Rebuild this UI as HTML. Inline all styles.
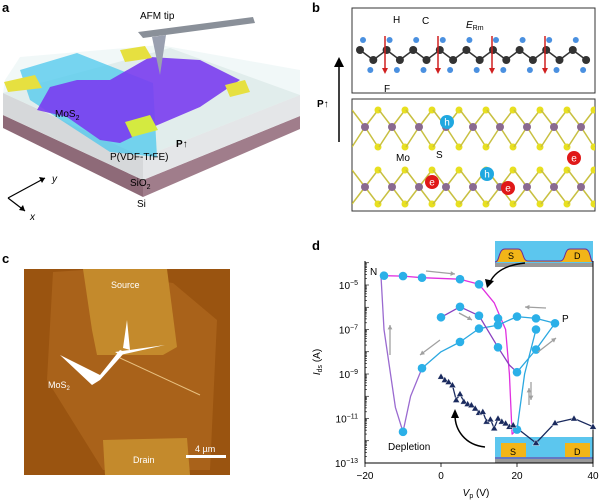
<!DOCTYPE html>
<html><head><meta charset="utf-8"><style>
html,body{margin:0;padding:0;background:#fff;}
svg{display:block;font-family:"Liberation Sans",sans-serif;}
</style></head><body>
<svg id="fig" width="600" height="502" viewBox="0 0 600 502">
<defs>
<clipPath id="clipTop"><rect x="352" y="8" width="243" height="85"/></clipPath>
<clipPath id="clipBot"><rect x="352" y="99" width="243" height="112"/></clipPath>
</defs>
<!-- Panel a -->
<g>
<text x="2" y="12" font-size="13" font-weight="bold">a</text>
<polygon points="3,115 143,180 143,197 3,128" fill="#8e6a78"/>
<polygon points="143,180 300,116 300,129 143,197" fill="#a07d8b"/>
<polygon points="3,93 143,157 143,180 3,115" fill="#d6d8da"/>
<polygon points="143,157 300,95 300,116 143,180" fill="#e4e6e8"/>
<polygon points="3,93 143,157 300,95 170,48" fill="#d8e4e0"/>
<polygon points="5,80 20,57 160,45 300,70 300,95 143,157 3,93" fill="#e8f4f4" opacity="0.6"/>
<polygon points="20,70 77,53 153,83 157,157 110,152 30,100" fill="#4cc8ee" opacity="0.75"/>
<polygon points="37,110 50,87 77,80 110,80 150,57 200,60 240,80 200,107 153,127 120,143 100,140 67,117" fill="#7a3cf0" opacity="0.9"/>
<polygon points="4,82 35,75 42,88 8,92" fill="#e6e040"/>
<polygon points="120,50 145,46 152,58 125,62" fill="#e6e040"/>
<polygon points="225,85 245,80 250,92 230,97" fill="#e6e040"/>
<polygon points="125,122 150,115 158,130 132,137" fill="#d4ea40"/>
<polygon points="138,32 253,17 255,23 143,38" fill="#8a9099"/>
<polygon points="152,37 166,35 160,75" fill="#9aa0b0"/>
<text x="140" y="19" font-size="10">AFM tip</text>
<text x="55" y="117" font-size="10">MoS<tspan font-size="7" dy="3">2</tspan></text>
<text x="176" y="147" font-size="10" font-weight="bold">P↑</text>
<text x="110" y="160" font-size="10">P(VDF-TrFE)</text>
<text x="130" y="186" font-size="10">SiO<tspan font-size="7" dy="3">2</tspan></text>
<text x="137" y="207" font-size="10">Si</text>
<g stroke="#000" stroke-width="1.2" fill="none">
<line x1="8" y1="198" x2="45" y2="178"/><line x1="8" y1="198" x2="25" y2="211"/>
</g>
<polygon points="45,178 39,177 42,183" fill="#000"/><polygon points="25,211 19,210 23,205" fill="#000"/>
<text x="52" y="182" font-size="10" font-style="italic">y</text>
<text x="30" y="220" font-size="10" font-style="italic">x</text>
</g>
<!-- Panel b -->
<g id="panelb">
<text x="312" y="12" font-size="13" font-weight="bold">b</text>
<rect x="352" y="8" width="243" height="85" fill="#fff" stroke="#333" stroke-width="1"/>
<rect x="352" y="99" width="243" height="112" fill="#fff" stroke="#333" stroke-width="1"/>
<g id="btop" clip-path="url(#clipTop)"></g>
<g id="bbot" clip-path="url(#clipBot)"></g>
<line x1="339" y1="142" x2="339" y2="66" stroke="#000" stroke-width="1.5"/>
<polygon points="334,67 344,67 339,57" fill="#000"/>
<text x="317" y="107" font-size="10" font-weight="bold">P↑</text>
</g>
<!-- Panel c -->
<g>
<text x="2" y="263" font-size="13" font-weight="bold">c</text>
<rect x="24" y="269" width="206" height="206" fill="#9a5410"/>
<polygon points="53,272 83,270 173,283 217,320 210,470 103,470 47,380" fill="#a9621a"/>
<polygon points="83,269 167,269 177,347 163,355 97,355 92,330" fill="#c48a2c"/>
<polygon points="103,440 187,438 190,475 105,475" fill="#c48a2c"/>
<path d="M60,355 L100,375 L120,350 L125,352 L100,380 L92,385 Z M115,352 L165,345 L120,355 Z M123,348 L127,320 L130,350 Z" fill="#fff"/>
<line x1="120" y1="358" x2="200" y2="395" stroke="#e8c080" stroke-width="1"/>
<text x="111" y="288" font-size="9" fill="#fff">Source</text>
<text x="48" y="388" font-size="9" fill="#fff">MoS<tspan font-size="6" dy="2">2</tspan></text>
<text x="133" y="463" font-size="9" fill="#fff">Drain</text>
<text x="195" y="452" font-size="9" fill="#fff">4 µm</text>
<rect x="186" y="455" width="40" height="3" fill="#fff"/>
</g>
<!-- Panel d -->
<g id="paneld">
<text x="312" y="250" font-size="13" font-weight="bold">d</text>
</g>
</svg>
<script>
// ---- chart data (panel d) ----
const xTicks = [-20, 0, 20, 40];
const yTickExps = [-5, -7, -9, -11, -13];
const nCurveX = [-15.8, -15, -10, -5, 5, 10, 14, 17, 18, 18.7, 20];
const nCurveY = [-4.55, -4.58, -4.6, -4.67, -4.74, -4.97, -5.8, -7.0, -9.0, -11.7, -11.5];
const valleyX = [-15.8, -15, -12, -10, -8, -5];
const valleyY = [-4.6, -7.0, -10.5, -11.6, -10.0, -8.74];
const pLoopX = [-5, 0, 5, 10, 15, 20, 25, 30, 25, 20];
const pLoopY = [-8.74, -8.0, -7.56, -6.96, -6.8, -6.42, -6.5, -6.72, -7.9, -8.92];
const purpleX = [0, 5, 10, 15, 18, 20];
const purpleY = [-6.45, -5.98, -6.38, -7.8, -8.6, -8.92];
const riseX = [20, 22, 25, 25];
const riseY = [-11.5, -9.0, -7.0, -7.0];
const circX = [-15, -10, -5, 5, 10, 0, 5, 10, 15, 15, 15, 20, 25, 30, 25, 25, 20, 10, 5, -5, -10, 20];
const circY = [-4.58, -4.6, -4.67, -4.74, -4.97, -6.45, -5.98, -6.38, -6.5, -6.8, -7.8, -6.42, -6.5, -6.72, -7.0, -7.9, -8.92, -6.96, -7.56, -8.74, -11.6, -11.5];
const triX = [0, 1, 2, 3, 4, 5, 6, 7, 8, 9, 10, 11, 12, 13, 14, 15, 16, 17, 18, 19, 25, 30, 35, 40];
const triY = [-9.12, -9.27, -9.36, -9.5, -10.17, -9.9, -10.24, -10.35, -10.4, -10.55, -10.74, -10.7, -11.14, -11.04, -11.44, -11.0, -11.14, -11.22, -11.37, -11.3, -12.1, -11.2, -11.0, -11.37];

const NS = 'http://www.w3.org/2000/svg';
function mk(tag, attrs, parent) {
  const e = document.createElementNS(NS, tag);
  for (const k in attrs) e.setAttribute(k, attrs[k]);
  parent.appendChild(e);
  return e;
}
const X = v => 365 + (v + 20) * 3.8;
const Y = l => 285 + (-5 - l) * 22.25;
const d = document.getElementById('paneld');

function inset(y0, top) {
  const g = mk('g', {}, d);
  
  
  mk('rect', {x: 495, y: y0, width: 98, height: 26, fill: '#5cc6ee'}, g);
  mk('rect', {x: 495, y: y0 + 22, width: 98, height: 4, fill: '#999'}, g);
  if (top) {
    mk('path', {d: `M495,${y0+21} C500,${y0+21} 498,${y0+8} 505,${y0+8} L518,${y0+8} C524,${y0+8} 522,${y0+20} 528,${y0+20} L560,${y0+20} C566,${y0+20} 564,${y0+8} 570,${y0+8} L585,${y0+8} C591,${y0+8} 590,${y0+21} 593,${y0+21}`, fill: '#f2b518', stroke: '#6a2a9a', 'stroke-width': 1}, g);
  } else {
    mk('rect', {x: 501, y: y0 + 6, width: 25, height: 14, fill: '#f2b518'}, g);
    mk('rect', {x: 565, y: y0 + 6, width: 25, height: 14, fill: '#f2b518'}, g);
    mk('line', {x1: 495, y1: y0 + 21, x2: 593, y2: y0 + 21, stroke: '#6a2a9a', 'stroke-width': 1}, g);
  }
  const s = mk('text', {x: top ? 508 : 510, y: y0 + 18, 'font-size': 9}, g); s.textContent = 'S';
  const dd = mk('text', {x: 574, y: y0 + 18, 'font-size': 9}, g); dd.textContent = 'D';
}
inset(241, true);
inset(437, false);

const box = mk('path', {d: 'M365,261 L365,463 L593,463 L593,261', fill: 'none', stroke: '#000', 'stroke-width': 1}, d);


for (let e = -13; e < -3.9; e++) {
  for (let m = 1; m < 10; m++) {
    const l = e + Math.log10(m);
    if (l > -3.92) continue;
    const len = m === 1 ? 4 : 2;
    mk('line', {x1: 365, x2: 365 + len, y1: Y(l), y2: Y(l), stroke: '#000', 'stroke-width': 0.6}, d);
  }
}
yTickExps.forEach(e => {
  const t = mk('text', {x: 358, y: Y(e) + 4, 'font-size': 10, 'text-anchor': 'end'}, d);
  
  
  t.innerHTML = '10<tspan font-size="7" dy="-4">' + (e < 0 ? '−' + (-e) : e) + '</tspan>';
});
xTicks.forEach(v => {
  mk('line', {x1: X(v), x2: X(v), y1: 463, y2: 467, stroke: '#000', 'stroke-width': 0.8}, d);
  const t = mk('text', {x: X(v), y: 479, 'font-size': 10, 'text-anchor': 'middle'}, d);
  
  
  t.textContent = v < 0 ? '−' + (-v) : String(v);
});
const xt = mk('text', {x: 476, y: 496, 'font-size': 10, 'text-anchor': 'middle'}, d);


xt.innerHTML = '<tspan font-style="italic">V</tspan><tspan font-size="7" dy="2">p</tspan><tspan dy="-2"> (V)</tspan>';
const yt = mk('text', {x: 0, y: 0, 'font-size': 10, 'text-anchor': 'middle', transform: 'translate(320,362) rotate(-90)'}, d);


yt.innerHTML = '<tspan font-style="italic">I</tspan><tspan font-size="7" dy="2">ds</tspan><tspan dy="-2"> (A)</tspan>';

function line(xs, ys, color, name, w) {
  const p = xs.map((v, i) => (i ? 'L' : 'M') + X(v).toFixed(1) + ',' + Y(ys[i]).toFixed(1)).join(' ');
  const e = mk('path', {d: p, fill: 'none', stroke: color, 'stroke-width': w || 1.3, 'stroke-linejoin': 'round'}, d);
  
  
}
line(nCurveX, nCurveY, '#e030e0', 'n-branch-line');
line(valleyX, valleyY, '#9a6ad0', 'depletion-valley-line');
line(pLoopX, pLoopY, '#2ba8e0', 'p-loop-line');
line(purpleX, purpleY, '#8a40c0', 'return-branch-line');
line(riseX, riseY, '#2ba8e0', 'rise-branch-line');
line(triX, triY, '#1a2a5e', 'triangle-series-line');

circX.forEach((v, i) => {
  const c = mk('circle', {cx: X(v), cy: Y(circY[i]), r: 4.3, fill: '#2bb0e8'}, d);
  
  
});
triX.forEach((v, i) => {
  const x = X(v), y = Y(triY[i]);
  const t = mk('polygon', {points: `${x},${y-3.5} ${x-3.5},${y+2.5} ${x+3.5},${y+2.5}`, fill: '#1a2a5e', stroke: '#fff', 'stroke-width': 0.4}, d);
  
  
});
const arrows = [[426,271,455,274],[390,355,390,325],[440,340,420,355],[459,313,472,320],[546,308,525,307],[538,352,556,338],[531,382,531,400],[529,405,529,388]];
arrows.forEach(a => {
  const g = mk('g', {}, d);
  
  
  mk('line', {x1: a[0], y1: a[1], x2: a[2], y2: a[3], stroke: '#a0a0a0', 'stroke-width': 1.3}, g);
  const ang = Math.atan2(a[3] - a[1], a[2] - a[0]);
  const hx = a[2], hy = a[3];
  const p1 = [hx - 5 * Math.cos(ang - 0.5), hy - 5 * Math.sin(ang - 0.5)];
  const p2 = [hx - 5 * Math.cos(ang + 0.5), hy - 5 * Math.sin(ang + 0.5)];
  mk('polygon', {points: `${hx},${hy} ${p1[0]},${p1[1]} ${p2[0]},${p2[1]}`, fill: '#a0a0a0'}, g);
});
const bk1 = mk('path', {d: 'M525,263 C505,265 495,272 490,282', fill: 'none', stroke: '#000', 'stroke-width': 1.5}, d);
 
mk('polygon', {points: '487,288 485,279 494,281', fill: '#000'}, d);
const bk2 = mk('path', {d: 'M485,447 C465,445 455,430 455,415', fill: 'none', stroke: '#000', 'stroke-width': 1.5}, d);
 
mk('polygon', {points: '455,409 451,418 459,418', fill: '#000'}, d);
[['N', 370, 275], ['P', 562, 322], ['Depletion', 388, 450]].forEach(l => {
  const t = mk('text', {x: l[1], y: l[2], 'font-size': 10}, d);
  
  
  t.textContent = l[0];
});

// ---- panel b atoms (decorative) ----
const b = document.getElementById('panelb');
const bt = document.getElementById('btop');
const bb = document.getElementById('bbot');
for (let k = 0; k < 18; k++) {
  const x = 360 + k * 13.3, up = k % 2 === 0;
  const cy = up ? 50 : 60;
  if (k > 0) mk('line', {x1: x - 13.3, y1: up ? 60 : 50, x2: x, y2: cy, stroke: '#333', 'stroke-width': 1.5}, bt);
  mk('circle', {cx: x + (up ? 3 : -3), cy: up ? 40 : 70, r: 3, fill: '#4a90e0'}, bt);
  const c = mk('circle', {cx: x, cy: cy, r: 4, fill: '#333'}, bt);
  
  
}
[385, 438, 492, 545].forEach(x => {
  const g = mk('g', {}, bt);
  
  
  mk('line', {x1: x, y1: 36, x2: x, y2: 68, stroke: '#d02020', 'stroke-width': 1.5}, g);
  mk('polygon', {points: `${x-3},68 ${x+3},68 ${x},74`, fill: '#d02020'}, g);
});
[[127, 110, 147], [187, 170, 204]].forEach(r => {
  for (let k = 0; k < 10; k++) {
    const x = 365 + k * 27;
    mk('line', {x1: x, y1: r[0], x2: x + 13, y2: r[1], stroke: '#c8c040', 'stroke-width': 1.5}, bb);
    mk('line', {x1: x, y1: r[0], x2: x + 13, y2: r[2], stroke: '#c8c040', 'stroke-width': 1.5}, bb);
    mk('line', {x1: x, y1: r[0], x2: x - 13, y2: r[1], stroke: '#c8c040', 'stroke-width': 1.5}, bb);
    mk('line', {x1: x, y1: r[0], x2: x - 13, y2: r[2], stroke: '#c8c040', 'stroke-width': 1.5}, bb);
    mk('circle', {cx: x + 13, cy: r[1], r: 3.5, fill: '#e8e020'}, bb);
    mk('circle', {cx: x + 13, cy: r[2], r: 3.5, fill: '#e8e020'}, bb);
    const m = mk('circle', {cx: x, cy: r[0], r: 4, fill: '#8a6a90'}, bb);
    
    
  }
});
[['h', 447, 122, '#20a8e0'], ['h', 487, 174, '#20a8e0'], ['e', 432, 182, '#e01818'], ['e', 508, 188, '#e01818'], ['e', 574, 158, '#e01818']].forEach(q => {
  const g = mk('g', {}, b);
  
  
  mk('circle', {cx: q[1], cy: q[2], r: 7, fill: q[3]}, g);
  const t = mk('text', {x: q[1], y: q[2] + 3.5, 'font-size': 10, fill: '#fff', 'text-anchor': 'middle'}, g);
  t.textContent = q[0];
});
[['H', 393, 23], ['C', 422, 24], ['F', 384, 92], ['Mo', 396, 161], ['S', 436, 158]].forEach(l => {
  const t = mk('text', {x: l[1], y: l[2], 'font-size': 10}, b);
  
  
  t.textContent = l[0];
});
const er = mk('text', {x: 466, y: 28, 'font-size': 10}, b);


er.innerHTML = '<tspan font-style="italic">E</tspan><tspan font-size="7" dy="2">Rm</tspan>';
</script>
</body></html>
